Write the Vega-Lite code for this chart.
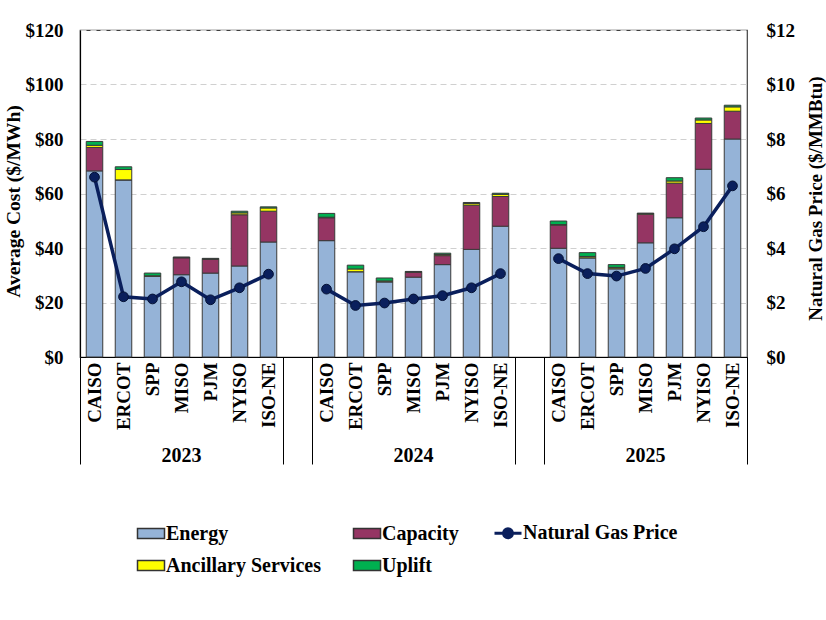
{
  "$schema": "https://vega.github.io/schema/vega-lite/v6.json",
  "width": 667,
  "height": 327,
  "autosize": {"type": "none"},
  "padding": {"left": 80, "top": 30, "right": 79, "bottom": 263},
  "background": "white",
  "config": {
    "font": "Liberation Serif",
    "view": {"stroke": "#404040", "strokeWidth": 1.2},
    "axis": {"labelFont": "Liberation Serif", "titleFont": "Liberation Serif", "labelColor": "black", "titleColor": "black", "labelFontWeight": "bold", "titleFontWeight": "bold"}
  },
  "datasets": {
    "rows": [
      {"year": "2023", "iso": "CAISO", "Energy": 68.3, "Capacity": 8.6, "Ancillary Services": 0.8, "Uplift": 1.4, "gas": 6.6},
      {"year": "2023", "iso": "ERCOT", "Energy": 65.0, "Capacity": 0, "Ancillary Services": 3.8, "Uplift": 1.0, "gas": 2.21},
      {"year": "2023", "iso": "SPP", "Energy": 29.6, "Capacity": 0, "Ancillary Services": 0.2, "Uplift": 1.0, "gas": 2.13},
      {"year": "2023", "iso": "MISO", "Energy": 30.2, "Capacity": 6.2, "Ancillary Services": 0.1, "Uplift": 0.2, "gas": 2.76},
      {"year": "2023", "iso": "PJM", "Energy": 30.8, "Capacity": 5.0, "Ancillary Services": 0.2, "Uplift": 0.2, "gas": 2.10},
      {"year": "2023", "iso": "NYISO", "Energy": 33.4, "Capacity": 18.8, "Ancillary Services": 0.7, "Uplift": 0.6, "gas": 2.54},
      {"year": "2023", "iso": "ISO-NE", "Energy": 42.2, "Capacity": 11.3, "Ancillary Services": 1.2, "Uplift": 0.4, "gas": 3.04},
      {"year": "2024", "iso": "CAISO", "Energy": 42.7, "Capacity": 8.4, "Ancillary Services": 0.2, "Uplift": 1.4, "gas": 2.49},
      {"year": "2024", "iso": "ERCOT", "Energy": 31.3, "Capacity": 0, "Ancillary Services": 1.0, "Uplift": 1.4, "gas": 1.89},
      {"year": "2024", "iso": "SPP", "Energy": 27.6, "Capacity": 0, "Ancillary Services": 0.3, "Uplift": 1.1, "gas": 1.98},
      {"year": "2024", "iso": "MISO", "Energy": 29.3, "Capacity": 1.8, "Ancillary Services": 0.1, "Uplift": 0.2, "gas": 2.13},
      {"year": "2024", "iso": "PJM", "Energy": 33.9, "Capacity": 3.3, "Ancillary Services": 0.4, "Uplift": 0.5, "gas": 2.25},
      {"year": "2024", "iso": "NYISO", "Energy": 39.5, "Capacity": 16.2, "Ancillary Services": 0.6, "Uplift": 0.4, "gas": 2.54},
      {"year": "2024", "iso": "ISO-NE", "Energy": 48.0, "Capacity": 10.9, "Ancillary Services": 0.8, "Uplift": 0.4, "gas": 3.06},
      {"year": "2025", "iso": "CAISO", "Energy": 39.9, "Capacity": 8.5, "Ancillary Services": 0.2, "Uplift": 1.3, "gas": 3.61},
      {"year": "2025", "iso": "ERCOT", "Energy": 36.4, "Capacity": 0, "Ancillary Services": 0.5, "Uplift": 1.4, "gas": 3.06},
      {"year": "2025", "iso": "SPP", "Energy": 32.4, "Capacity": 0, "Ancillary Services": 0.5, "Uplift": 1.0, "gas": 2.97},
      {"year": "2025", "iso": "MISO", "Energy": 41.9, "Capacity": 10.5, "Ancillary Services": 0.2, "Uplift": 0.2, "gas": 3.25},
      {"year": "2025", "iso": "PJM", "Energy": 51.1, "Capacity": 12.7, "Ancillary Services": 0.8, "Uplift": 1.2, "gas": 3.97},
      {"year": "2025", "iso": "NYISO", "Energy": 68.9, "Capacity": 16.8, "Ancillary Services": 1.3, "Uplift": 0.7, "gas": 4.78},
      {"year": "2025", "iso": "ISO-NE", "Energy": 80.0, "Capacity": 10.2, "Ancillary Services": 1.6, "Uplift": 0.6, "gas": 6.28}
    ]
  },
  "layer": [
    {
      "data": {"name": "rows"},
      "transform": [
        {"fold": ["Energy", "Capacity", "Ancillary Services", "Uplift"], "as": ["component", "value"]},
        {"calculate": "datum.year + '|' + datum.iso", "as": "key"},
        {"calculate": "indexof(['Energy','Capacity','Ancillary Services','Uplift'], datum.component)", "as": "ord"}
      ],
      "mark": {"type": "bar", "width": {"band": 0.57}, "stroke": "#3a3a3a", "strokeWidth": 1},
      "encoding": {
        "x": {
          "field": "key", "type": "nominal",
          "scale": {"type": "band", "paddingInner": 0, "paddingOuter": 0, "domain": ["2023|CAISO","2023|ERCOT","2023|SPP","2023|MISO","2023|PJM","2023|NYISO","2023|ISO-NE","gap1","2024|CAISO","2024|ERCOT","2024|SPP","2024|MISO","2024|PJM","2024|NYISO","2024|ISO-NE","gap2","2025|CAISO","2025|ERCOT","2025|SPP","2025|MISO","2025|PJM","2025|NYISO","2025|ISO-NE"]},
          "axis": {
            "orient": "bottom", "title": null, "bandPosition": 0,
            "values": ["2023|CAISO","2023|ERCOT","2023|SPP","2023|MISO","2023|PJM","2023|NYISO","2023|ISO-NE","gap1","2024|CAISO","2024|ERCOT","2024|SPP","2024|MISO","2024|PJM","2024|NYISO","2024|ISO-NE","gap2","2025|CAISO","2025|ERCOT","2025|SPP","2025|MISO","2025|PJM","2025|NYISO","2025|ISO-NE"],
            "labelExpr": "indexof(datum.value, '|') > 0 ? split(datum.value, '|')[1] : ''",
            "labelAngle": -90, "labelAlign": "right", "labelBaseline": "middle",
            "labelOffset": 0, "labelPadding": -102, "labelFontSize": 19,
            "labelOverlap": false, "labelBound": false, "labelFlush": false,
            "tickSize": 107, "tickColor": "black", "tickWidth": 1,
            "tickOpacity": {"condition": {"test": "indexof(['2023|CAISO','gap1','2024|CAISO','gap2','2025|CAISO'], datum.value) >= 0", "value": 1}, "value": 0},
            "domainColor": "black", "domainWidth": 1.2, "grid": false
          }
        },
        "y": {
          "field": "value", "type": "quantitative", "stack": "zero",
          "scale": {"domain": [0, 120], "nice": false, "zero": true},
          "axis": {
            "orient": "left", "title": "Average Cost ($/MWh)", "values": [0, 20, 40, 60, 80, 100, 120],
            "labelExpr": "'$' + datum.value", "labelFontSize": 19, "labelPadding": 17,
            "ticks": false, "domainColor": "black", "domainWidth": 1.2,
            "grid": true, "gridDash": [6, 4], "gridColor": "#d0d0d0", "gridWidth": 1,
            "titleFontSize": 19.5, "titleAngle": -90, "titleX": -67, "titleY": 171,
            "titleAlign": "center", "titleBaseline": "middle"
          }
        },
        "color": {
          "field": "component", "type": "nominal",
          "scale": {"domain": ["Energy", "Capacity", "Natural Gas Price", "Ancillary Services", "Uplift"], "range": ["#95b3d7", "#953563", "#0a1f5c", "#ffff00", "#00b050"]},
          "legend": {
            "orient": "none", "legendX": 61, "legendY": 493, "direction": "horizontal", "columns": 3,
            "title": null, "padding": 0, "labelFontSize": 20, "labelFontWeight": "bold", "labelColor": "black",
            "labelFont": "Liberation Serif", "labelOffset": 5, "columnPadding": 29, "rowPadding": 11.5,
            "symbolSize": 729, "symbolType": "M-1,-0.37H1V0.37H-1Z", "symbolStrokeWidth": 1.5,
            "symbolStrokeColor": "#333", "symbolOpacity": 1,
            "encode": {
              "symbols": {
                "update": {
                  "shape": {"signal": "datum.value === 'Natural Gas Price' ? 'M-1,0H1M0.33,0A0.33,0.33 0 1 1 -0.33,0A0.33,0.33 0 1 1 0.33,0' : 'M-1,-0.37H1V0.37H-1Z'"},
                  "stroke": {"signal": "datum.value === 'Natural Gas Price' ? '#0a1f5c' : '#333333'"},
                  "strokeWidth": {"signal": "datum.value === 'Natural Gas Price' ? 3 : 1.5"}
                }
              }
            }
          }
        },
        "order": {"field": "ord"}
      }
    },
    {
      "data": {"name": "rows"},
      "transform": [{"calculate": "datum.year + '|' + datum.iso", "as": "key"}],
      "encoding": {
        "x": {
          "field": "key", "type": "nominal",
          "scale": {"type": "band", "paddingInner": 0, "paddingOuter": 0, "domain": ["2023|CAISO","2023|ERCOT","2023|SPP","2023|MISO","2023|PJM","2023|NYISO","2023|ISO-NE","gap1","2024|CAISO","2024|ERCOT","2024|SPP","2024|MISO","2024|PJM","2024|NYISO","2024|ISO-NE","gap2","2025|CAISO","2025|ERCOT","2025|SPP","2025|MISO","2025|PJM","2025|NYISO","2025|ISO-NE"]},
          "axis": {
            "orient": "bottom", "title": null, "bandPosition": 1,
            "values": ["2023|MISO", "2024|MISO", "2025|MISO", "2025|ISO-NE"],
            "labelExpr": "datum.value == '2025|ISO-NE' ? '' : split(datum.value, '|')[0]",
            "labelAngle": 0, "labelAlign": "center", "labelBaseline": "top",
            "labelOffset": 0, "labelPadding": -19, "labelFontSize": 20,
            "labelOverlap": false, "labelBound": false, "labelFlush": false,
            "tickSize": 107, "tickColor": "black", "tickWidth": 1,
            "tickOpacity": {"condition": {"test": "datum.value == '2025|ISO-NE'", "value": 1}, "value": 0},
            "domain": false, "grid": false
          }
        },
        "y": {
          "field": "gas", "type": "quantitative",
          "scale": {"domain": [0, 12], "nice": false, "zero": true},
          "axis": {
            "orient": "right", "title": "Natural Gas Price ($/MMBtu)", "values": [0, 2, 4, 6, 8, 10, 12],
            "labelExpr": "'$' + datum.value", "labelFontSize": 19, "labelPadding": 19,
            "ticks": false, "domain": false, "grid": false,
            "titleFontSize": 19, "titleAngle": -90, "titleX": 68, "titleY": 168,
            "titleAlign": "center", "titleBaseline": "middle"
          }
        }
      },
      "layer": [
        {"mark": {"type": "line", "color": "#0a1f5c", "strokeWidth": 3.5}, "encoding": {"detail": {"field": "year"}, "order": {"value": null}}},
        {"mark": {"type": "point", "filled": true, "color": "#0a1f5c", "size": 95, "opacity": 1, "stroke": "#061336", "strokeWidth": 1}, "encoding": {}}
      ]
    }
  ],
  "resolve": {"scale": {"y": "independent"}, "axis": {"x": "independent"}}
}
